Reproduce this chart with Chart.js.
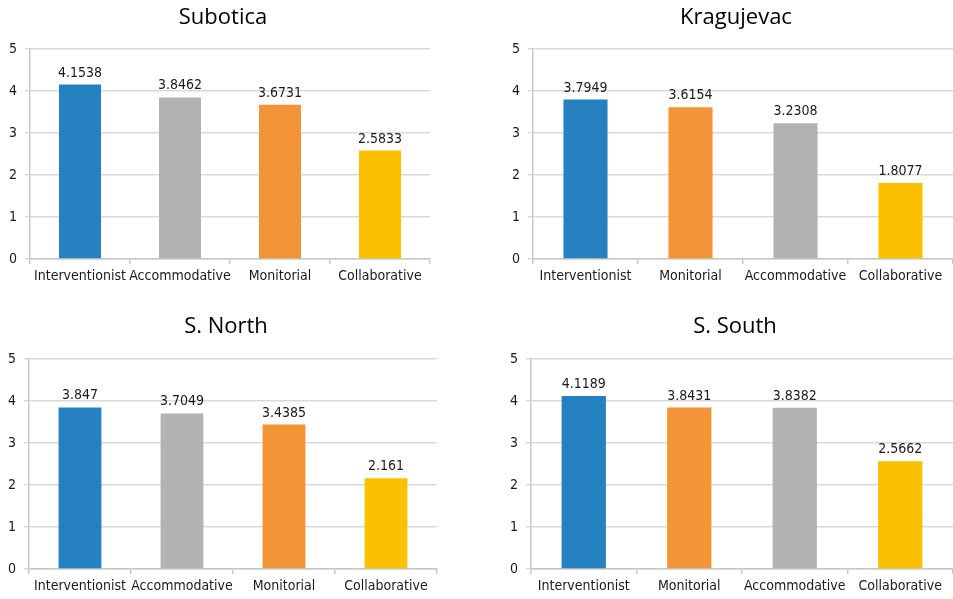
<!DOCTYPE html>
<html>
<head>
<meta charset="utf-8">
<script src="https://cdn.jsdelivr.net/npm/chart.js@4"></script>
<style>
  html, body { margin: 0; padding: 0; background: #ffffff; }
  #wrap { position: relative; width: 953px; height: 599px; overflow: hidden; }
  .panel { position: absolute; width: 476px; height: 300px; }
</style>
</head>
<body>
<div id="wrap">
  <div class="panel" style="left:0;top:0"><canvas id="cSubotica" width="476" height="300"></canvas></div>
  <div class="panel" style="left:477px;top:0"><canvas id="cKragujevac" width="476" height="300"></canvas></div>
  <div class="panel" style="left:0;top:300px"><canvas id="cNorth" width="476" height="300"></canvas></div>
  <div class="panel" style="left:477px;top:300px"><canvas id="cSouth" width="476" height="300"></canvas></div>
</div>
<script>
// ---------- Datos ----------
var suboticaLabels = ['Interventionist', 'Accommodative', 'Monitorial', 'Collaborative'];
var suboticaValues = [4.1538, 3.8462, 3.6731, 2.5833];

var kragujevacLabels = ['Interventionist', 'Monitorial', 'Accommodative', 'Collaborative'];
var kragujevacValues = [3.7949, 3.6154, 3.2308, 1.8077];

var northLabels = ['Interventionist', 'Accommodative', 'Monitorial', 'Collaborative'];
var northValues = [3.847, 3.7049, 3.4385, 2.161];

var southLabels = ['Interventionist', 'Monitorial', 'Accommodative', 'Collaborative'];
var southValues = [4.1189, 3.8431, 3.8382, 2.5662];

var yTicks = [0, 1, 2, 3, 4, 5];

// colores por categoria
var colores = {
    'Interventionist': '#2681c1',
    'Accommodative': '#b2b2b2',
    'Monitorial': '#f39436',
    'Collaborative': '#fbc000'
};

var FUENTE_TXT = '"DejaVu Sans Condensed", "Liberation Sans Narrow", sans-serif';
var FUENTE_TIT = '"Open Sans", "Noto Sans", sans-serif';

// ---------- Etiquetas sobre las barras ----------
var valueLabels = {
    id: 'valueLabels',
    afterDatasetsDraw: function (chart) {
        var ctx = chart.ctx;
        var meta = chart.getDatasetMeta(0);
        var ds = chart.data.datasets[0];
        ctx.save();
        ctx.font = '14px ' + FUENTE_TXT;
        ctx.fillStyle = '#1a1a1a';
        ctx.textAlign = 'center';
        ctx.textBaseline = 'alphabetic';
        meta.data.forEach(function (bar, i) {
            ctx.fillText(String(ds.data[i]), bar.x, bar.y - 8);
        });
        ctx.restore();
    }
};

// ---------- Titulo del panel (centrado un poco a la izquierda del area) ----------
var panelTitle = {
    id: 'panelTitle',
    afterDraw: function (chart, args, opts) {
        var ctx = chart.ctx;
        var a = chart.chartArea;
        ctx.save();
        ctx.font = '22px ' + FUENTE_TIT;
        ctx.fillStyle = '#000000';
        ctx.textAlign = 'center';
        ctx.textBaseline = 'middle';
        ctx.fillText(opts.text, (a.left + a.right) / 2 + opts.dx, opts.y);
        ctx.restore();
    }
};

// ---------- Render de un panel ----------
function renderPanel(canvasId, titulo, labels, values, lay) {
    var canvas = document.getElementById(canvasId);
    return new Chart(canvas, {
        type: 'bar',
        data: {
            labels: labels,
            datasets: [{
                data: values,
                backgroundColor: labels.map(function (l) { return colores[l]; }),
                borderWidth: 0,
                barPercentage: 0.42,
                categoryPercentage: 1
            }]
        },
        options: {
            responsive: false,
            animation: false,
            devicePixelRatio: 1,
            layout: { padding: { left: lay.padLeft, right: lay.padRight, top: lay.padTop, bottom: 0 } },
            plugins: {
                legend: { display: false },
                tooltip: { enabled: false },
                title: { display: false },
                panelTitle: { text: titulo, y: lay.titY, dx: -7 }
            },
            scales: {
                x: {
                    offset: true,
                    grid: {
                        display: true,
                        offset: true,
                        drawOnChartArea: false,
                        drawTicks: true,
                        tickLength: 5,
                        color: '#c8c8c8',
                        lineWidth: 1.5
                    },
                    border: { display: true, color: '#c8c8c8', width: 1.5 },
                    ticks: {
                        autoSkip: false,
                        maxRotation: 0,
                        padding: 4,
                        color: '#1a1a1a',
                        font: { family: FUENTE_TXT, size: 14 }
                    },
                    afterFit: function (scale) { scale.height = lay.xHeight; }
                },
                y: {
                    min: 0,
                    max: 5,
                    afterBuildTicks: function (scale) {
                        scale.ticks = yTicks.map(function (v) { return { value: v }; });
                    },
                    grid: {
                        color: '#d9d9d9',
                        lineWidth: 1.5,
                        drawTicks: true,
                        tickLength: 5
                    },
                    border: { display: true, color: '#c8c8c8', width: 1.5 },
                    ticks: {
                        padding: 8,
                        color: '#1a1a1a',
                        font: { family: FUENTE_TXT, size: 14 }
                    },
                    afterFit: function (scale) { scale.width = lay.yWidth; }
                }
            }
        },
        plugins: [valueLabels, panelTitle]
    });
}

renderPanel('cSubotica', 'Subotica', suboticaLabels, suboticaValues,
    { padLeft: 0, padRight: 46, padTop: 49, yWidth: 30, xHeight: 41, titY: 18 });
renderPanel('cKragujevac', 'Kragujevac', kragujevacLabels, kragujevacValues,
    { padLeft: 26, padRight: 0, padTop: 49, yWidth: 30, xHeight: 41, titY: 18 });
renderPanel('cNorth', 'S. North', northLabels, northValues,
    { padLeft: 0, padRight: 39, padTop: 59, yWidth: 29, xHeight: 31, titY: 27 });
renderPanel('cSouth', 'S. South', southLabels, southValues,
    { padLeft: 24, padRight: 0, padTop: 59, yWidth: 30, xHeight: 31, titY: 27 });
</script>
</body>
</html>
